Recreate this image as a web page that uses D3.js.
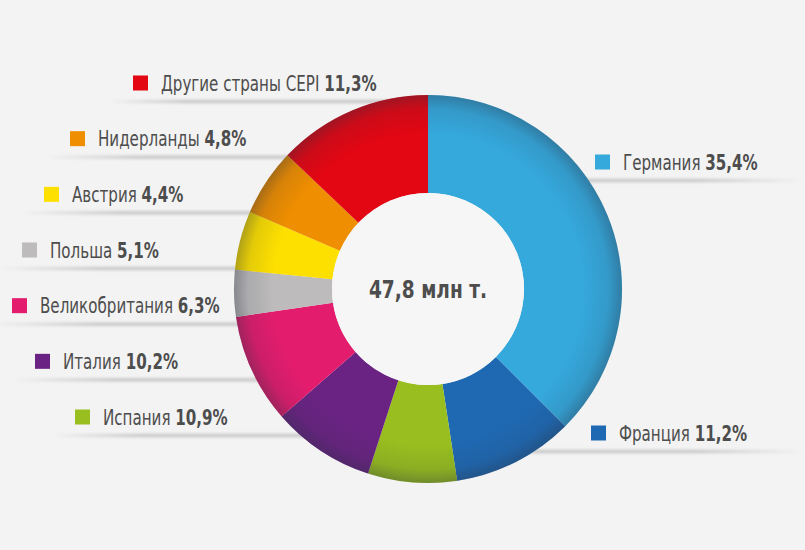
<!DOCTYPE html>
<html>
<head>
<meta charset="utf-8">
<script src="https://cdn.jsdelivr.net/npm/d3@7"></script>
<style>
  html, body { margin: 0; padding: 0; background: #f3f3f3; }
  svg { display: block; }
  .lbl { font-family: "DejaVu Sans Condensed", "Liberation Sans Narrow", sans-serif; fill: #4d4d4d; }
</style>
</head>
<body>
<div id="chart"></div>
<script>
// countries, clockwise from 12 o'clock
var countries = ["Германия", "Франция", "Испания", "Италия", "Великобритания", "Польша", "Австрия", "Нидерланды", "Другие страны CEPI"]
var percentLabels = ["35,4%", "11,2%", "10,9%", "10,2%", "6,3%", "5,1%", "4,4%", "4,8%", "11,3%"]
// slice share as drawn in the picture (%)
var sliceShare = [37.5, 10.1, 7.4, 8.6, 9.1, 3.9, 4.9, 5.6, 12.9]
var colors = ["#35a8dc", "#1f69b3", "#98bf1f", "#6a2383", "#e31c6e", "#bdbbbb", "#fde000", "#ef8e00", "#e30613"]
var totalText = "47,8 млн т."

// label layout
var leftOrder = ["Другие страны CEPI", "Нидерланды", "Австрия", "Польша", "Великобритания", "Италия", "Испания"]
var leftMarkerX = [133, 70, 44, 22, 12, 35, 75]
var rightOrder = ["Германия", "Франция"]
var rightMarkerX = [595, 591]

var width = 805, height = 550
var cx = 428, cy = 289, outerR = 194, innerR = 96
var squeeze = 0.8

var svg = d3.select("#chart").append("svg")
    .attr("width", width)
    .attr("height", height)

svg.append("rect").attr("width", width).attr("height", height).attr("fill", "#f3f3f3")

var defs = svg.append("defs")

var blur = defs.append("filter").attr("id", "soft").attr("x", "-10%").attr("y", "-300%").attr("width", "120%").attr("height", "700%")
blur.append("feGaussianBlur").attr("stdDeviation", 1.6)

var fadeL = defs.append("linearGradient").attr("id", "fadeL")
fadeL.append("stop").attr("offset", 0).attr("stop-color", "#c2c2c2").attr("stop-opacity", 0)
fadeL.append("stop").attr("offset", 0.25).attr("stop-color", "#c2c2c2").attr("stop-opacity", 1)
fadeL.append("stop").attr("offset", 1).attr("stop-color", "#c2c2c2").attr("stop-opacity", 1)

var fadeR = defs.append("linearGradient").attr("id", "fadeR")
fadeR.append("stop").attr("offset", 0).attr("stop-color", "#c2c2c2").attr("stop-opacity", 1)
fadeR.append("stop").attr("offset", 0.7).attr("stop-color", "#c2c2c2").attr("stop-opacity", 1)
fadeR.append("stop").attr("offset", 1).attr("stop-color", "#c2c2c2").attr("stop-opacity", 0)

// darkening towards the outer rim (coords are the donut group's)
var rim = defs.append("radialGradient").attr("id", "rim")
    .attr("gradientUnits", "userSpaceOnUse")
    .attr("cx", 0).attr("cy", 0).attr("r", outerR)
rim.append("stop").attr("offset", 0.8).attr("stop-color", "#283040").attr("stop-opacity", 0)
rim.append("stop").attr("offset", 0.93).attr("stop-color", "#283040").attr("stop-opacity", 0.12)
rim.append("stop").attr("offset", 1).attr("stop-color", "#283040").attr("stop-opacity", 0.36)

// label rows
var leftY = d3.scalePoint().domain(leftOrder).range([83, 417])
var rightY = d3.scalePoint().domain(rightOrder).range([162, 433])

var rows = []
leftOrder.forEach(function(name, i){
    rows.push({name: name, side: "left", x: leftMarkerX[i], y: leftY(name)})
})
rightOrder.forEach(function(name, i){
    rows.push({name: name, side: "right", x: rightMarkerX[i], y: rightY(name)})
})

// shadow planks under labels
var planks = svg.append("g").attr("filter", "url(#soft)")
rows.forEach(function(r){
    var x0, x1
    if (r.side == "left") { x0 = r.x - 25; x1 = cx }
    else { x0 = cx; x1 = width }
    planks.append("rect")
        .attr("x", x0)
        .attr("y", r.y + 17)
        .attr("width", x1 - x0)
        .attr("height", 3)
        .attr("fill", r.side == "left" ? "url(#fadeL)" : "url(#fadeR)")
})

// donut
var pie = d3.pie().sort(null).value(function(d){ return d })
var arc = d3.arc().innerRadius(innerR).outerRadius(outerR)
var arcs = pie(sliceShare)

var g = svg.append("g").attr("transform", "translate(" + cx + "," + cy + ")")
g.selectAll("path.slice")
    .data(arcs)
    .enter().append("path")
    .attr("class", "slice")
    .attr("d", arc)
    .attr("fill", function(d, i){ return colors[i] })

g.append("path")
    .attr("d", arc({startAngle: 0, endAngle: 2 * Math.PI}))
    .attr("fill", "url(#rim)")

g.append("circle").attr("r", innerR).attr("fill", "#f6f6f6")

g.append("text")
    .attr("class", "lbl")
    .attr("text-anchor", "middle")
    .attr("transform", "scale(0.86,1)")
    .attr("dy", "0.36em")
    .attr("font-size", 24)
    .attr("font-weight", "bold")
    .text(totalText)

// labels
rows.forEach(function(r){
    var i = countries.indexOf(r.name)
    svg.append("rect")
        .attr("x", r.x)
        .attr("y", r.y - 7.5)
        .attr("width", 15)
        .attr("height", 15)
        .attr("fill", colors[i])
    var t = svg.append("text")
        .attr("class", "lbl")
        .attr("transform", "translate(" + (r.x + 28) + "," + r.y + ") scale(" + squeeze + ",1)")
        .attr("dy", "0.36em")
        .attr("font-size", 21)
    t.append("tspan").text(r.name + " ")
    t.append("tspan").attr("font-weight", "bold").text(percentLabels[i])
})
</script>
</body>
</html>
